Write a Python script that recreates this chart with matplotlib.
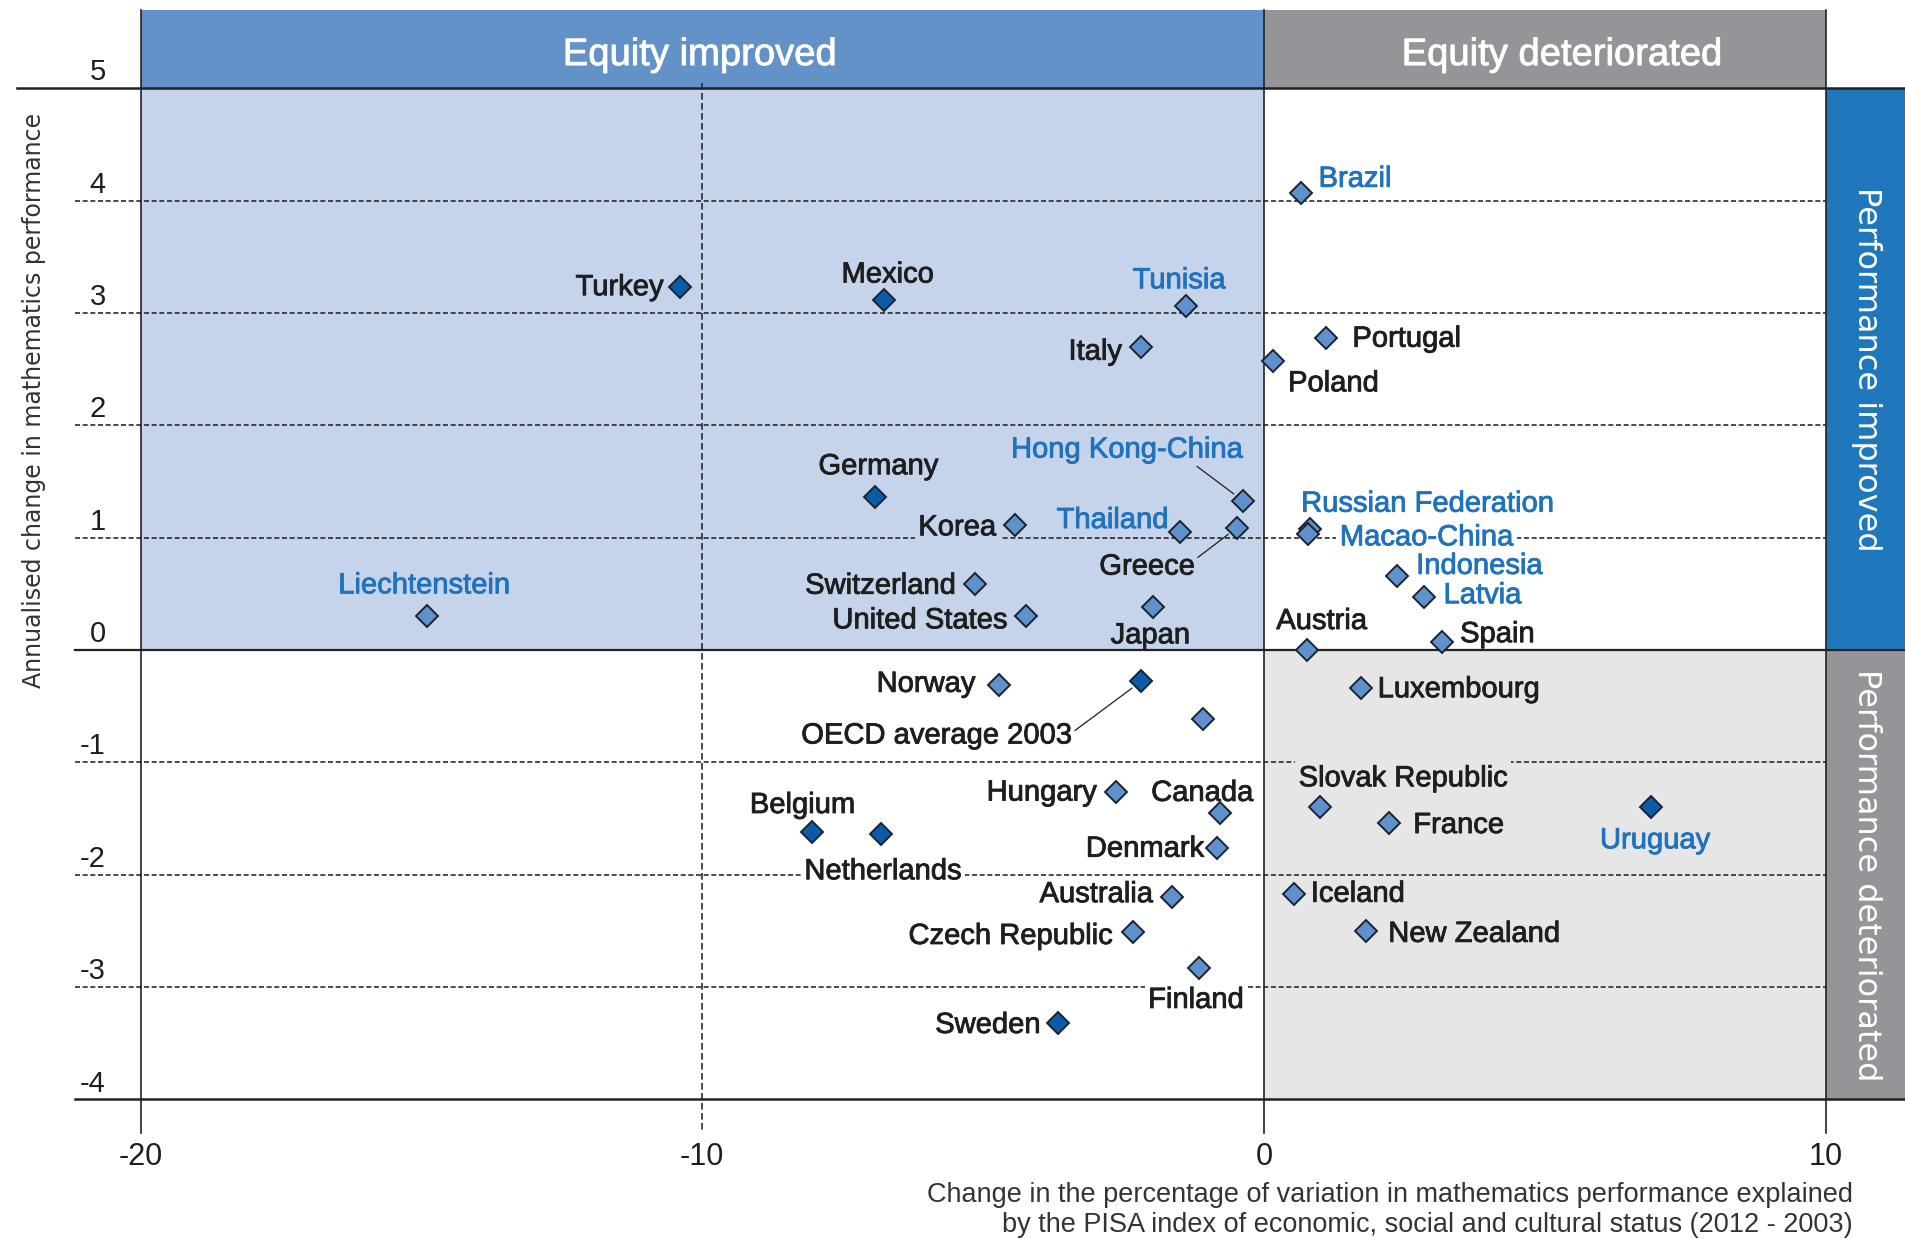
import matplotlib
matplotlib.use("Agg")
import matplotlib.pyplot as plt
import matplotlib.patheffects as pe
from matplotlib.patches import Rectangle

plt.rcParams["font.family"] = ["Liberation Sans", "DejaVu Sans"]

# data
countries = [
    "Turkey", "Mexico", "Tunisia", "Italy", "Poland", "Portugal", "Brazil",
    "Germany", "Hong Kong-China", "Korea", "Thailand", "Greece", "Switzerland",
    "United States", "Japan", "Liechtenstein", "Russian Federation",
    "Macao-China", "Indonesia", "Latvia", "Austria", "Spain", "Norway",
    "OECD average 2003", "Ireland", "Luxembourg", "Hungary", "Canada",
    "Belgium", "Netherlands", "Denmark", "Slovak Republic", "France",
    "Uruguay", "Australia", "Czech Republic", "Finland", "Sweden", "Iceland",
    "New Zealand",
]
# change in % of variation explained by ESCS (2012 - 2003)
equity_change = [
    -10.39, -6.77, -1.39, -2.19, 0.16, 1.11, 0.65,
    -6.92, -0.38, -4.43, -1.49, -0.48, -5.15,
    -4.23, -1.97, -14.90, 0.82,
    0.78, 2.37, 2.84, 0.77, 3.17, -4.71,
    -2.19, -1.08, 1.72, -2.64, -0.78,
    -8.04, -6.82, -0.84, 1.00, 2.23,
    6.89, -1.64, -2.34, -1.16, -3.66, 0.53,
    1.82,
]
# annualised change in mathematics performance
perf_change = [
    3.23, 3.12, 3.06, 2.70, 2.57, 2.78, 4.07,
    1.36, 1.33, 1.11, 1.05, 1.09, 0.59,
    0.30, 0.38, 0.30, 1.08,
    1.03, 0.66, 0.47, 0.00, 0.07, -0.31,
    -0.28, -0.61, -0.34, -1.26, -1.45,
    -1.62, -1.64, -1.76, -1.40, -1.54,
    -1.40, -2.20, -2.51, -2.83, -3.32, -2.17,
    -2.50,
]
significant = [
    "Turkey", "Mexico", "Germany", "OECD average 2003", "Belgium",
    "Netherlands", "Uruguay", "Sweden",
]
partners = [
    "Tunisia", "Brazil", "Hong Kong-China", "Thailand", "Liechtenstein",
    "Russian Federation", "Macao-China", "Indonesia", "Latvia", "Uruguay",
]
x_ticks = [-20, -10, 0, 10]
y_ticks = [-4, -3, -2, -1, 0, 1, 2, 3, 4, 5]
grid_y = [-3, -2, -1, 1, 2, 3, 4]

# label layout: alignment, offset from marker in pixels (x right, y down), box colour
LABELS = {
    "Turkey": ("right", -17, 8, None),
    "Mexico": ("center", 4, -17, None),
    "Tunisia": ("center", -7, -18, None),
    "Italy": ("right", -19, 13, None),
    "Poland": ("left", 15, 30, None),
    "Portugal": ("left", 26, 9, None),
    "Brazil": ("left", 18, -6, None),
    "Germany": ("center", 3, -23, None),
    "Hong Kong-China": ("center", -116, -43, None),
    "Korea": ("right", -19, 10, "#c5d4ea"),
    "Thailand": ("right", -12, -4, None),
    "Greece": ("right", -42, 47, None),
    "Switzerland": ("right", -19, 10, None),
    "United States": ("right", -19, 12, None),
    "Japan": ("center", -3, 36, None),
    "Liechtenstein": ("center", -3, -23, None),
    "Russian Federation": ("left", -9, -17, None),
    "Macao-China": ("left", 32, 11, "white"),
    "Indonesia": ("left", 19, -2, None),
    "Latvia": ("left", 20, 6, None),
    "Austria": ("left", -31, -21, None),
    "Spain": ("left", 18, 0, None),
    "Norway": ("right", -24, 7, None),
    "OECD average 2003": ("right", -69, 62, None),
    "Luxembourg": ("left", 17, 9, None),
    "Hungary": ("right", -19, 9, None),
    "Canada": ("center", -18, -12, None),
    "Belgium": ("center", -10, -19, None),
    "Netherlands": ("center", 2, 45, "white"),
    "Denmark": ("right", -13, 9, None),
    "Slovak Republic": ("center", 83, -21, "#e6e6e6"),
    "France": ("left", 24, 10, None),
    "Uruguay": ("center", 4, 41, None),
    "Australia": ("right", -19, 5, None),
    "Czech Republic": ("right", -20, 12, None),
    "Finland": ("center", -3, 40, "white"),
    "Sweden": ("right", -18, 10, None),
    "Iceland": ("left", 17, 8, None),
    "New Zealand": ("left", 22, 11, None),
}
LEADERS = {
    "Hong Kong-China": (0.78, 0.05),
    "Greece": (1.0, 0.75),
    "OECD average 2003": (1.0, 0.6),
}

BLUE_HEAD = "#6392c8"
BLUE_AREA = "#c5d4ea"
BLUE_SIDE = "#1f77bc"
GREY_HEAD = "#939598"
GREY_AREA = "#e6e6e6"
DARK_MK = "#0b5ca8"
LIGHT_MK = "#5f91cc"
BLUE_TXT = "#1f72bb"
INK = "#1e1e1e"
PX = 0.72  # points per pixel at dpi 100


def heavy(color):
    # a thin outline in the text colour to get a semibold look
    return [pe.withStroke(linewidth=0.6, foreground=color)]


fig = plt.figure(figsize=(19.05, 12.39), dpi=100)
ax = fig.add_axes([0.0738, 0.1127, 0.8846, 0.8160])
ax.set_xlim(-20, 10)
ax.set_ylim(-4, 5)
ax.axis("off")

top, right = 5.70, 11.41


def box(x0, y0, x1, y1, color):
    ax.add_patch(Rectangle((x0, y0), x1 - x0, y1 - y0, facecolor=color,
                           edgecolor="none", clip_on=False, zorder=0))


box(-20, 0, 0, 5, BLUE_AREA)
box(0, -4, 10, 0, GREY_AREA)
box(-20, 5, 0, top, BLUE_HEAD)
box(0, 5, 10, top, GREY_HEAD)
box(10, 0, right, 5, BLUE_SIDE)
box(10, -4, right, 0, GREY_HEAD)

for v in grid_y:
    ax.plot([-21.17, 10], [v, v], color="#2b2b2b", lw=1.2, dashes=(3, 1.6),
            clip_on=False, zorder=1)
ax.plot([-10, -10], [5.05, -4.30], color="#2b2b2b", lw=1.2, dashes=(4, 2),
        clip_on=False, zorder=1)
ax.plot([-22.2, right], [5, 5], color="#222222", lw=1.8, clip_on=False, zorder=2)
ax.plot([-21.17, right], [0, 0], color="#222222", lw=1.6, clip_on=False, zorder=2)
ax.plot([-21.17, right], [-4, -4], color="#222222", lw=1.8, clip_on=False, zorder=2)
for v in [-20, 0, 10]:
    ax.plot([v, v], [top, -4.30], color="#222222", lw=1.2, clip_on=False, zorder=2)

for v in y_ticks:
    ax.text(-20.62, v + 0.07, f"{v}", ha="right", va="baseline", fontsize=21,
            color=INK)
for v in x_ticks:
    ax.text(v, -4.585, f"{v}", ha="center", va="baseline", fontsize=22,
            color=INK)

ax.text(-10.04, 5.207, "Equity improved", ha="center", va="baseline",
        fontsize=27.5, color="white", path_effects=heavy("white"))
ax.text(5.31, 5.207, "Equity deteriorated", ha="center", va="baseline",
        fontsize=27.5, color="white", path_effects=heavy("white"))
ax.text(10.72, 2.5, "Performance improved", rotation=270, ha="center",
        va="center", fontsize=23, color="white", family="DejaVu Sans")
ax.text(10.72, -2.0, "Performance deteriorated", rotation=270, ha="center",
        va="center", fontsize=23, color="white", family="DejaVu Sans")

ax.text(-21.90, 2.22, "Annualised change in mathematics performance",
        rotation=90, ha="center", va="center", fontsize=17, color="#333333",
        family="DejaVu Sans")
ax.text(10.48, -4.912,
        "Change in the percentage of variation in mathematics performance explained",
        ha="right", va="baseline", fontsize=19.5, color="#333333")
ax.text(10.48, -5.179,
        "by the PISA index of economic, social and cultural status (2012 - 2003)",
        ha="right", va="baseline", fontsize=19.5, color="#333333")

for name, x, y in zip(countries, equity_change, perf_change):
    ax.plot(x, y, marker="D", ms=11.5,
            mfc=DARK_MK if name in significant else LIGHT_MK,
            mec="#1c2330", mew=1.4, zorder=6, clip_on=False)
    if name not in LABELS:
        continue
    ha, dx, dy, bg = LABELS[name]
    color = BLUE_TXT if name in partners else INK
    kw = {}
    if name in LEADERS:
        kw["arrowprops"] = dict(arrowstyle="-", color=INK, lw=0.9,
                                relpos=LEADERS[name], shrinkA=0, shrinkB=8)
    if bg:
        kw["bbox"] = dict(boxstyle="square,pad=0.12", fc=bg, ec="none")
    ax.annotate(name, (x, y), xytext=(dx * PX, -dy * PX),
                textcoords="offset points", ha=ha, va="baseline",
                fontsize=21, color=color, zorder=4,
                path_effects=heavy(color), **kw)

fig.savefig("out.png", dpi=100)
